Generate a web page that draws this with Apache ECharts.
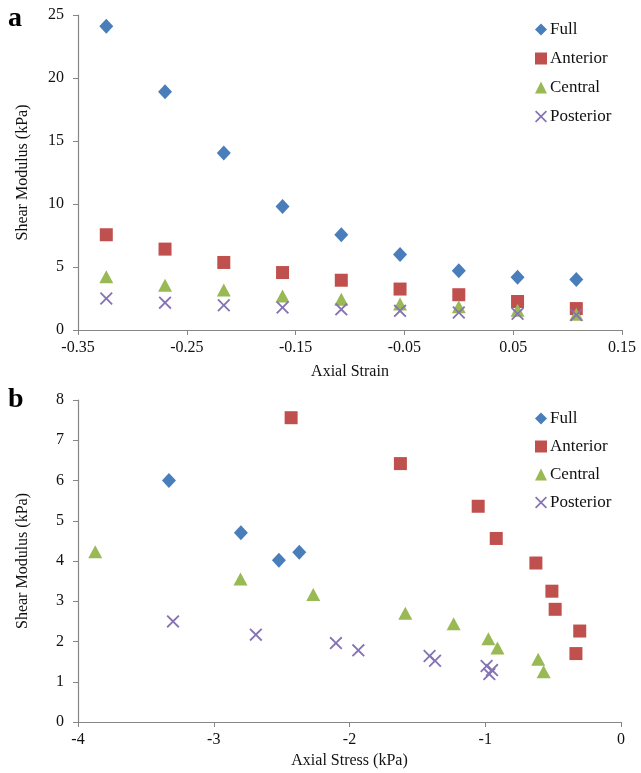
<!DOCTYPE html>
<html>
<head>
<meta charset="utf-8">
<script src="https://cdn.jsdelivr.net/npm/echarts@6/dist/echarts.min.js"></script>
<style>
html,body{margin:0;padding:0;background:#fff;}
#c{width:641px;height:773px;}
</style>
</head>
<body>
<div id="c"></div>
<script>
// ---- data ----
const seriesNames = ['Full', 'Anterior', 'Central', 'Posterior'];
// panel a: axial strain
const strain = [-0.324, -0.270, -0.216, -0.162, -0.108, -0.054, 0.000, 0.054, 0.108];
const fullModA = [24.1, 18.9, 14.05, 9.8, 7.55, 6.0, 4.7, 4.18, 4.0];
const anteriorMod = [7.56, 6.42, 5.36, 4.56, 3.95, 3.25, 2.8, 2.26, 1.7];
const centralMod = [4.23, 3.55, 3.17, 2.7, 2.44, 2.07, 1.84, 1.56, 1.25];
const posteriorMod = [2.5, 2.17, 1.96, 1.78, 1.64, 1.52, 1.39, 1.29, 1.19];
// panel b: axial stress (kPa)
const fullStressB = [-3.33, -2.80, -2.52, -2.37];
const fullModB = [6.0, 4.7, 4.02, 4.22];
const anteriorStress = [-2.43, -1.625, -1.052, -0.919, -0.627, -0.509, -0.485, -0.304, -0.332];
const centralStress = [-3.873, -2.803, -2.267, -1.589, -1.233, -0.977, -0.91, -0.61, -0.57];
const posteriorStress = [-3.30, -2.69, -2.10, -1.935, -1.41, -1.37, -0.99, -0.95, -0.97];
// ticks
const axisA = {xmin: -0.35, xmax: 0.15, xstep: 0.1, ymin: 0, ymax: 25, ystep: 5};
const axisB = {xmin: -4, xmax: 0, xstep: 1, ymin: 0, ymax: 8, ystep: 1};

const zip = (xs, ys) => xs.map((x, i) => [x, ys[i]]);

const FONT = '"Liberation Serif", "DejaVu Serif", serif';
const colors = {Full: '#4a7ebb', Anterior: '#c0504d', Central: '#98b954', Posterior: '#8573b5'};
const xPath = 'path://M0,1L1,0L5,4L9,0L10,1L6,5L10,9L9,10L5,6L1,10L0,9L4,5Z';
const symbols = {
  Full: {symbol: 'diamond', size: [14, 15]},
  Anterior: {symbol: 'rect', size: 13},
  Central: {symbol: 'triangle', size: [14, 13]},
  Posterior: {symbol: xPath, size: 13}
};

function axisCommon(extra) {
  return Object.assign({
    axisLine: {show: true, onZero: false, lineStyle: {color: '#868686', width: 1.2}},
    axisTick: {show: true, inside: false, length: 5, lineStyle: {color: '#868686'}},
    splitLine: {show: false},
    nameTextStyle: {color: '#111', fontFamily: FONT, fontSize: 16}
  }, extra);
}

function mkSeries(name, data, idx) {
  return {
    name: name, type: 'scatter', xAxisIndex: idx, yAxisIndex: idx,
    data: data, symbol: symbols[name].symbol, symbolSize: symbols[name].size,
    itemStyle: {color: colors[name], opacity: 1},
    z: 2
  };
}

const fmt2 = v => String(+(+v).toFixed(2));
const xLabel = {color: '#111', fontFamily: FONT, fontSize: 16, margin: 10, formatter: fmt2};
const yLabel = {color: '#111', fontFamily: FONT, fontSize: 16, margin: 14};
const legendText = {fontFamily: FONT, fontSize: 17, color: '#111', padding: [0, 0, 0, -2]};

const option = {
  backgroundColor: '#fff',
  animation: false,
  grid: [
    {left: 78, right: 19, top: 15, height: 315},
    {left: 78, right: 20, top: 400, height: 322}
  ],
  xAxis: [
    axisCommon({gridIndex: 0, type: 'value', min: axisA.xmin, max: axisA.xmax, interval: axisA.xstep,
      name: 'Axial Strain', nameLocation: 'middle', nameGap: 34, axisLabel: xLabel}),
    axisCommon({gridIndex: 1, type: 'value', min: axisB.xmin, max: axisB.xmax, interval: axisB.xstep,
      name: 'Axial Stress (kPa)', nameLocation: 'middle', nameGap: 31, axisLabel: xLabel})
  ],
  yAxis: [
    axisCommon({gridIndex: 0, type: 'value', min: axisA.ymin, max: axisA.ymax, interval: axisA.ystep,
      name: 'Shear Modulus (kPa)', nameLocation: 'middle', nameGap: 47, axisLabel: yLabel}),
    axisCommon({gridIndex: 1, type: 'value', min: axisB.ymin, max: axisB.ymax, interval: axisB.ystep,
      name: 'Shear Modulus (kPa)', nameLocation: 'middle', nameGap: 47, axisLabel: yLabel})
  ],
  legend: [
    {data: seriesNames, orient: 'vertical', left: 530, top: 16, itemWidth: 12, itemHeight: 12, itemGap: 12,
      textStyle: legendText, selectedMode: false},
    {data: seriesNames, orient: 'vertical', left: 530, top: 405, itemWidth: 12, itemHeight: 12, itemGap: 11,
      textStyle: legendText, selectedMode: false}
  ],
  graphic: [
    {type: 'text', left: 8, top: 5, style: {text: 'a', font: 'bold 28px ' + FONT, fill: '#000'}},
    {type: 'text', left: 8, top: 386, style: {text: 'b', font: 'bold 28px ' + FONT, fill: '#000'}}
  ],
  series: [
    mkSeries('Full', zip(strain, fullModA), 0),
    mkSeries('Anterior', zip(strain, anteriorMod), 0),
    mkSeries('Central', zip(strain, centralMod), 0),
    mkSeries('Posterior', zip(strain, posteriorMod), 0),
    mkSeries('Full', zip(fullStressB, fullModB), 1),
    mkSeries('Anterior', zip(anteriorStress, anteriorMod), 1),
    mkSeries('Central', zip(centralStress, centralMod), 1),
    mkSeries('Posterior', zip(posteriorStress, posteriorMod), 1)
  ]
};

const chart = echarts.init(document.getElementById('c'), null, {renderer: 'canvas'});
chart.setOption(option);
</script>
</body>
</html>
